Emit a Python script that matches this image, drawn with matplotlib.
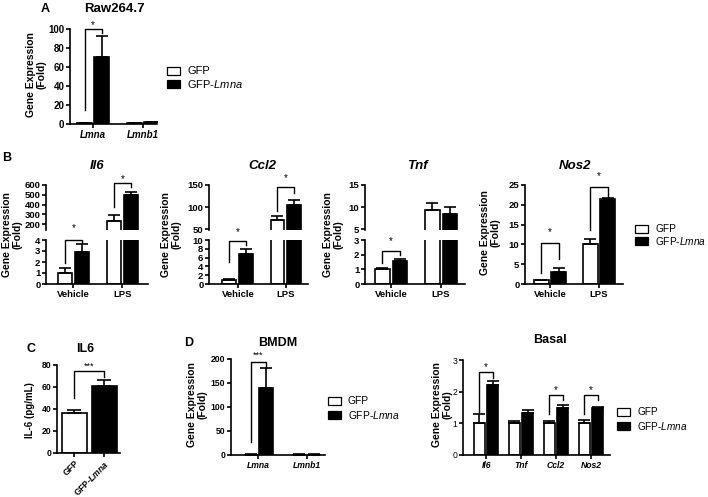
import matplotlib
matplotlib.use("Agg")
import matplotlib.pyplot as plt
import numpy as np
from matplotlib.patches import Rectangle

plt.rcParams['font.family'] = ['Liberation Sans', 'DejaVu Sans']
plt.rcParams['mathtext.fontset'] = 'custom'
plt.rcParams['mathtext.rm'] = 'Liberation Sans'
plt.rcParams['mathtext.it'] = 'Liberation Sans:italic:bold'
plt.rcParams['mathtext.sf'] = 'Liberation Sans:italic'
plt.rcParams['mathtext.bf'] = 'Liberation Sans:bold'

# ---------------- data ----------------
a_genes = ['Lmna', 'Lmnb1']
a_gfp = [1.0, 1.2]
a_gfp_err = [0.3, 0.3]
a_lmna = [70, 1.6]
a_lmna_err = [23, 0.4]

b_conditions = ['Vehicle', 'LPS']
il6_gfp = [1.0, 230]
il6_gfp_err = [0.5, 60]
il6_lmna = [2.9, 500]
il6_lmna_err = [0.7, 30]

ccl2_gfp = [1.0, 70]
ccl2_gfp_err = [0.05, 10]
ccl2_lmna = [6.8, 105]
ccl2_lmna_err = [1.1, 12]

tnf_gfp = [1.0, 9.3]
tnf_gfp_err = [0.12, 1.7]
tnf_lmna = [1.57, 8.4]
tnf_lmna_err = [0.15, 1.5]

nos2_gfp = [1.0, 10.0]
nos2_gfp_err = [0.1, 1.3]
nos2_lmna = [3.1, 21.4]
nos2_lmna_err = [1.0, 0.2]

c_groups = ['GFP', 'GFP-$\\mathit{Lmna}$']
c_values = [36, 61]
c_errors = [3, 5]

d_genes = ['Lmna', 'Lmnb1']
d_gfp = [1.0, 1.0]
d_gfp_err = [0.3, 0.2]
d_lmna = [140, 1.0]
d_lmna_err = [42, 0.2]

basal_genes = ['Il6', 'Tnf', 'Ccl2', 'Nos2']
basal_gfp = [1.0, 1.0, 1.0, 1.0]
basal_gfp_err = [0.3, 0.06, 0.07, 0.09]
basal_lmna = [2.2, 1.33, 1.48, 1.47]
basal_lmna_err = [0.15, 0.08, 0.1, 0.06]

# ---------------- figure ----------------
W, H = 708, 497
fig = plt.figure(figsize=(W / 100, H / 100), dpi=100)


def add_ax(l, t, r, b):
    return fig.add_axes([l / W, 1 - b / H, (r - l) / W, (b - t) / H])


def txt(x, y, s, **kw):
    kw.setdefault('ha', 'center')
    kw.setdefault('va', 'center')
    fig.text(x / W, 1 - y / H, s, **kw)


LW = 1.2


def style(ax, bottom=True, tsize=6.8, tweight='bold'):
    for s in ['top', 'right']:
        ax.spines[s].set_visible(False)
    ax.spines['left'].set_linewidth(LW)
    ax.spines['bottom'].set_linewidth(LW)
    if not bottom:
        ax.spines['bottom'].set_visible(False)
        ax.tick_params(axis='x', bottom=False, labelbottom=False)
    ax.tick_params(direction='out', length=3, width=LW, labelsize=tsize, pad=1)
    for lab in ax.get_yticklabels():
        lab.set_fontweight(tweight)
    ax.patch.set_alpha(0)


def bars(ax, g, ge, l, le, off, w, n):
    x = np.arange(n)
    ax.bar(x - off, g, w, color='white', edgecolor='black', linewidth=LW, zorder=2)
    ax.bar(x + off, l, w, color='black', edgecolor='black', linewidth=LW, zorder=2)
    ax.errorbar(x - off, g, yerr=[np.zeros(n), ge], fmt='none', ecolor='black',
                elinewidth=LW, capsize=4, capthick=LW, zorder=3)
    ax.errorbar(x + off, l, yerr=[np.zeros(n), le], fmt='none', ecolor='black',
                elinewidth=LW, capsize=4, capthick=LW, zorder=3)


def bracket(ax, x1, x2, ytop, yl, yr, ty, s='*', fs=7):
    ax.plot([x1, x1, x2, x2], [yl, ytop, ytop, yr], color='black', lw=1.0,
            clip_on=False, zorder=4)
    ax.text((x1 + x2) / 2, ty, s, ha='center', va='center', fontsize=fs,
            clip_on=False)


def legend(x, y1, y2, fs=7.4):
    for (yy, fc, lab) in [(y1, 'white', 'GFP'), (y2, 'black', 'GFP-$\\mathsf{Lmna}$')]:
        fig.patches.append(Rectangle((x / W, 1 - (yy + 4) / H), 13 / W, 8 / H,
                                     transform=fig.transFigure, facecolor=fc,
                                     edgecolor='black', linewidth=0.9))
        txt(x + 20, yy, lab, ha='left', fontsize=fs)


YL = 'Gene Expression\n(Fold)'

# ---------------- Panel A ----------------
txt(45, 9, 'A', fontsize=9, fontweight='bold')
txt(114, 9, 'Raw264.7', fontsize=9.5, fontweight='bold')
ax = add_ax(70, 29, 157, 124)
off, w = 0.17, 0.3
bars(ax, a_gfp, a_gfp_err, a_lmna, a_lmna_err, off, w, 2)
ax.set_xlim(-0.46, 1.28)
ax.set_ylim(0, 100)
ax.set_yticks([0, 20, 40, 60, 80, 100])
ax.set_xticks([0, 1])
ax.set_xticklabels(a_genes, fontsize=7.8, fontweight='bold', style='italic')
style(ax, tsize=7)
bracket(ax, -off, off, 100, 15, 96, 104)
txt(36, 75, YL, rotation=90, fontsize=7.5, fontweight='bold', linespacing=1.1)
legend(167, 71, 84, fs=8)

# ---------------- Panel B ----------------
txt(7, 158, 'B', fontsize=9, fontweight='bold')
off, w = 0.175, 0.29


def broken(l, r, xl, g, ge, lm, le, upper_lim, upper_ticks, lower_lim, lower_ticks):
    up = add_ax(l, 185, r, 230)
    lo = add_ax(l, 240, r, 284)
    for a in (up, lo):
        bars(a, g, ge, lm, le, off, w, 2)
        a.set_xlim(*xl)
    up.set_ylim(*upper_lim)
    up.set_yticks(upper_ticks)
    lo.set_ylim(*lower_lim)
    lo.set_yticks(lower_ticks)
    lo.set_xticks([0, 1])
    lo.set_xticklabels(b_conditions, fontsize=8.3, fontweight='bold')
    style(up, bottom=False, tsize=6.8)
    style(lo, tsize=6.8)
    return up, lo


# Il6
up, lo = broken(46, 148, (-0.56, 1.52), il6_gfp, il6_gfp_err, il6_lmna, il6_lmna_err,
                (140, 600), [200, 300, 400, 500, 600], (0, 4), [0, 1, 2, 3, 4])
bracket(lo, -off, off, 4.0, 1.9, 3.7, 5.1)
bracket(up, 1 - off, 1 + off, 620, 370, 580, 665)
txt(97, 166, 'Il6', fontsize=9.5, fontweight='bold', style='italic')
txt(12, 235, YL, rotation=90, fontsize=7.5, fontweight='bold', linespacing=1.1)

# Ccl2
up, lo = broken(209, 308, (-0.6, 1.46), ccl2_gfp, ccl2_gfp_err, ccl2_lmna, ccl2_lmna_err,
                (48, 150), [50, 100, 150], (0, 10), [0, 2, 4, 6, 8, 10])
bracket(lo, -off, off, 9.8, 5.0, 8.9, 11.8)
bracket(up, 1 - off, 1 + off, 146, 90, 132, 165)
txt(262, 166, 'Ccl2', fontsize=9.5, fontweight='bold', style='italic')
txt(171, 235, YL, rotation=90, fontsize=7.5, fontweight='bold', linespacing=1.1)

# Tnf
up, lo = broken(365, 465, (-0.52, 1.48), tnf_gfp, tnf_gfp_err, tnf_lmna, tnf_lmna_err,
                (4.8, 15), [5, 10, 15], (0, 3), [0, 1, 2, 3])
bracket(lo, -off, off, 2.25, 1.43, 1.98, 2.95)
txt(417, 166, 'Tnf', fontsize=9.5, fontweight='bold', style='italic')
txt(333, 235, YL, rotation=90, fontsize=7.5, fontweight='bold', linespacing=1.1)

# Nos2
ax = add_ax(525, 185, 623, 284)
bars(ax, nos2_gfp, nos2_gfp_err, nos2_lmna, nos2_lmna_err, off, w, 2)
ax.set_xlim(-0.51, 1.49)
ax.set_ylim(0, 25)
ax.set_yticks([0, 5, 10, 15, 20, 25])
ax.set_xticks([0, 1])
ax.set_xticklabels(b_conditions, fontsize=8.3, fontweight='bold')
style(ax)
bracket(ax, -off, off, 10.4, 2.8, 6.3, 13.0)
bracket(ax, 1 - off, 1 + off, 24.6, 13.6, 22.0, 27.2)
txt(575, 166, 'Nos2', fontsize=9.5, fontweight='bold', style='italic')
txt(490, 233, YL, rotation=90, fontsize=7.5, fontweight='bold', linespacing=1.1)
legend(635, 229, 241, fs=7.3)

# ---------------- Panel C ----------------
txt(31, 349, 'C', fontsize=9, fontweight='bold')
txt(85, 349, 'IL6', fontsize=9, fontweight='bold')
ax = add_ax(57, 365, 120, 453)
x = np.arange(2)
ax.bar(x, c_values, 0.83, color=['white', 'black'], edgecolor='black', linewidth=LW, zorder=2)
ax.errorbar(x, c_values, yerr=[np.zeros(2), c_errors], fmt='none', ecolor='black',
            elinewidth=LW, capsize=5, capthick=LW, zorder=3)
ax.set_xlim(-0.58, 1.52)
ax.set_ylim(0, 80)
ax.set_yticks([0, 20, 40, 60, 80])
ax.set_xticks([0, 1])
ax.set_xticklabels(c_groups, rotation=45, ha='right',
                   rotation_mode='anchor', fontsize=7.2, fontweight='bold')
style(ax, tsize=6.2)
bracket(ax, 0, 1, 74.5, 50, 69, 79, s='***', fs=6.5)
txt(30, 410, 'IL-6 (pg/mL)', rotation=90, fontsize=7, fontweight='bold')

# ---------------- Panel D ----------------
txt(189, 343, 'D', fontsize=9, fontweight='bold')
txt(278, 343, 'BMDM', fontsize=9, fontweight='bold')
ax = add_ax(231, 359, 325, 455)
off, w = 0.155, 0.3
bars(ax, d_gfp, d_gfp_err, d_lmna, d_lmna_err, off, w, 2)
ax.set_xlim(-0.57, 1.38)
ax.set_ylim(0, 200)
ax.set_yticks([0, 50, 100, 150, 200])
ax.set_xticks([0, 1])
ax.set_xticklabels(d_genes, fontsize=7.8, fontweight='bold', style='italic')
style(ax, tsize=6.2)
bracket(ax, -off, off, 194, 27, 182, 207, s='***', fs=6.5)
txt(197, 405, YL, rotation=90, fontsize=7.5, fontweight='bold', linespacing=1.1)
legend(328, 401, 415, fs=7.4)

txt(550, 340, 'Basal', fontsize=9, fontweight='bold')
ax = add_ax(463, 360, 610, 455)
off, w = 0.19, 0.31
bars(ax, basal_gfp, basal_gfp_err, basal_lmna, basal_lmna_err, off, w, 4)
ax.set_xlim(-0.66, 3.54)
ax.set_ylim(0, 3)
ax.set_yticks([0, 1, 2, 3])
ax.set_xticks(np.arange(4))
ax.set_xticklabels(basal_genes, fontsize=8, fontweight='bold', style='italic')
style(ax, tsize=6.2, tweight='normal')
bracket(ax, -off, off, 2.62, 1.36, 2.42, 2.78)
bracket(ax, 2 - off, 2 + off, 1.9, 1.3, 1.75, 2.06)
bracket(ax, 3 - off, 3 + off, 1.9, 1.3, 1.75, 2.06)
txt(442, 405, YL, rotation=90, fontsize=7.5, fontweight='bold', linespacing=1.1)
legend(617, 412, 426, fs=7.2)

fig.savefig('out.png', dpi=100)
